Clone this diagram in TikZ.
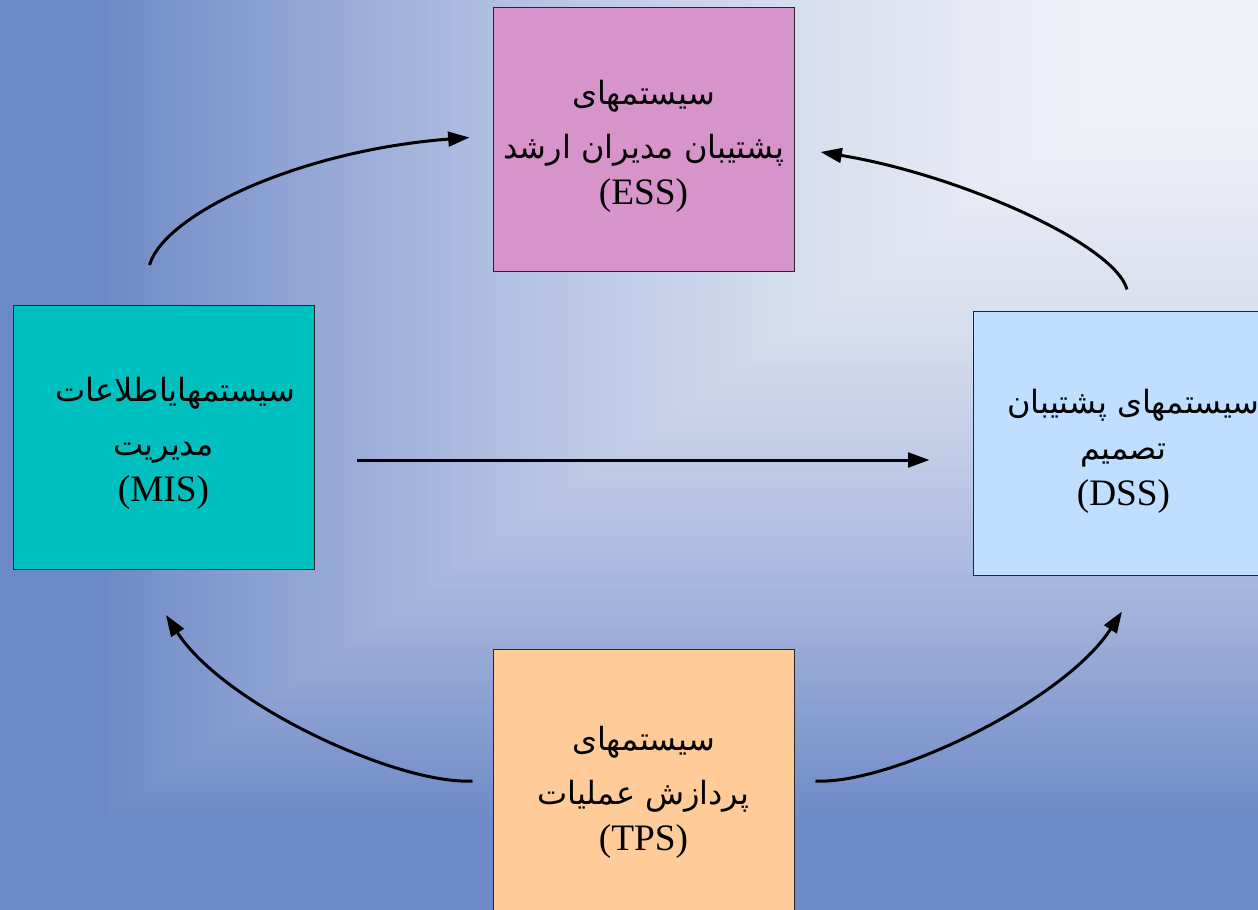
\documentclass[tikz,border=0pt]{standalone}
\usepackage{fontspec}
\setmainfont{Liberation Serif}
\newfontfamily\arabicfont[Script=Arabic]{DejaVu Sans}
\TeXXeTstate=1
\usetikzlibrary{arrows.meta}

\definecolor{bgblue}{RGB}{110,137,199}
\definecolor{bglight}{RGB}{242,243,249}
\definecolor{esscol}{RGB}{214,148,203}
\definecolor{miscol}{RGB}{0,191,191}
\definecolor{dsscol}{RGB}{192,222,255}
\definecolor{tpscol}{RGB}{255,204,153}

\newcommand{\fa}[1]{{\arabicfont\fontsize{24}{30}\selectfont\beginR #1\endR}}

\tikzset{
  sysbox/.style={draw=black!85,line width=0.75pt,minimum width=225.75pt,
    minimum height=198pt,inner sep=0pt},
  systext/.style={align=center,inner sep=0pt,
    font=\fontsize{28}{34.5}\selectfont},
  flow/.style={line width=2.25pt,-{Triangle[length=16pt,width=11pt]}}
}

\begin{document}
\begin{tikzpicture}[x=0.75pt,y=-0.75pt]
    \useasboundingbox (0,0) rectangle (1258,910);
    \clip (0,0) rectangle (1258,910);
    \fill[bgblue] (0,0) rectangle (1258,910);
    \foreach \i in {0,...,149}
             {
               \pgfmathsetmacro\t{1-\i/150}
               \pgfmathtruncatemacro\m{100*\t^1.6}
               \fill[bgblue!\m!bglight] (1220-1120*\t,-10) rectangle (1270,30+790*\t);
             }

    \node[sysbox,fill=esscol] (ess) at (643.5,139.5) {};
    \node[sysbox,fill=miscol] (mis) at (163.5,437.5) {};
    \node[sysbox,fill=dsscol] (dss) at (1123.5,443) {};
    \node[sysbox,fill=tpscol,minimum height=219pt] (tps) at (643.5,795) {};

    \node[systext] (esslabel) at ([yshift=-5pt]ess.center)
      {\fa{سیستمهای}\\[6pt] \fa{پشتیبان مدیران ارشد}\\ (ESS)};
    \node[systext] (mislabel) at ([yshift=-4pt]mis.center)
      {\hspace*{18pt}\fa{سیستمهایاطلاعات}\\[6pt] \fa{مدیریت}\\ (MIS)};
    \node[systext] (dsslabel) at ([yshift=-6.5pt]dss.center)
      {\hspace*{15pt}\fa{سیستمهای پشتیبان}\\ \fa{تصمیم}\\ (DSS)};
    \node[systext] (tpslabel) at ([yshift=2pt]tps.center)
      {\fa{سیستمهای}\\[6pt] \fa{پردازش عملیات}\\ (TPS)};

    \draw[flow] ([shift={(-14,-40)}]mis.north)
       .. controls +(15,-51) and +(-170,13) .. ([shift={(-23,-2)}]ess.west);
    \draw[flow] ([shift={(3.5,-21)}]dss.north)
       .. controls +(-12,-45) and +(140,23) .. ([shift={(26,12.5)}]ess.east);
    \draw[flow] ([shift={(42,22.5)}]mis.east) -- ([shift={(-43,17)}]dss.west);
    \draw[flow] ([shift={(-20,-14)}]tps.west)
       .. controls +(-73,4) and +(59,91) .. ([shift={(2.5,45)}]mis.south);
    \draw[flow] ([shift={(21,-14)}]tps.east)
       .. controls +(73,4) and +(-59,91) .. ([shift={(-1.5,36)}]dss.south);

\end{tikzpicture}
\end{document}
